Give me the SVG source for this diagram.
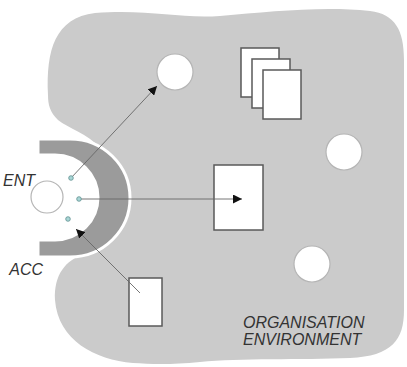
<svg xmlns="http://www.w3.org/2000/svg" width="407" height="367" viewBox="0 0 407 367">
<style>
.blob{fill:#cbcbcb;stroke:none}
.ring{fill:#9b9b9b;stroke:#fff;stroke-width:3}
.node-c{fill:#fff;stroke:#b5b5b5;stroke-width:1.2}
.node-r{fill:#fff;stroke:#5a5a5a;stroke-width:1.5}
.conn{stroke:#666;stroke-width:0.9;fill:none}
.port{fill:#a9d6d6;stroke:#5e8f8f;stroke-width:0.8}
.lbl{font-family:"Liberation Sans",Arial,sans-serif;font-style:italic;font-size:16px;fill:#333}
</style>
<defs>
<marker id="arr" viewBox="0 0 10 10" refX="10" refY="5" markerWidth="9" markerHeight="9" markerUnits="userSpaceOnUse" orient="auto">
<path d="M0,0 L10,5 L0,10 Z" fill="#111"/>
</marker>
</defs>
<g id="environment">
<path class="blob" d="M95,13 C150,9 180,19 220,16 C270,12 320,6 370,11 C395,14 404,30 404,60 L404,310 C404,340 392,356 350,358 C300,360 240,358 200,362 C170,365 150,364 133,363 C95,360 58,340 55,300 C54,275 65,260 85,254 L100,248 L114,198 L100,148 C88,134 68,128 58,120 C50,112 48,105 48,95 C46,50 55,18 95,13 Z"/>
</g>
<g id="entity-ring">
<path class="ring" d="M38,139 H70 A60,59 0 0 1 70,257 H38 V240 H55 A43,42.5 0 0 0 55,155 H38 Z"/>
<circle class="node-c" cx="47" cy="197" r="16"/>
</g>
<g id="circle-top"><circle class="node-c" cx="175" cy="72" r="18"/></g>
<g id="circle-right"><circle class="node-c" cx="344" cy="152" r="18"/></g>
<g id="circle-bottom"><circle class="node-c" cx="312" cy="264" r="18"/></g>
<g id="doc-stack">
<rect class="node-r" x="241" y="48" width="38" height="49"/>
<rect class="node-r" x="252" y="59" width="38" height="49"/>
<rect class="node-r" x="263" y="70" width="38" height="49"/>
</g>
<g id="rect-mid"><rect class="node-r" x="214" y="165" width="49" height="65"/></g>
<g id="rect-bottom"><rect class="node-r" x="129" y="278" width="33" height="48"/></g>
<g id="connectors">
<line class="conn" x1="71" y1="178" x2="157" y2="86" marker-end="url(#arr)"/>
<line class="conn" x1="79" y1="199" x2="242" y2="199" marker-end="url(#arr)"/>
<line class="conn" x1="140" y1="293" x2="76" y2="229" marker-end="url(#arr)"/>
</g>
<g id="ports">
<circle class="port" cx="71" cy="178" r="2.3"/>
<circle class="port" cx="79" cy="199" r="2.3"/>
<circle class="port" cx="68" cy="219" r="2.3"/>
</g>
<g id="labels">
<text class="lbl" x="35" y="186" text-anchor="end">ENT</text>
<text class="lbl" x="43" y="275" text-anchor="end">ACC</text>
<text class="lbl" x="243" y="328" font-size="16.5">ORGANISATION</text>
<text class="lbl" x="243" y="345" font-size="16.5">ENVIRONMENT</text>
</g>
</svg>
